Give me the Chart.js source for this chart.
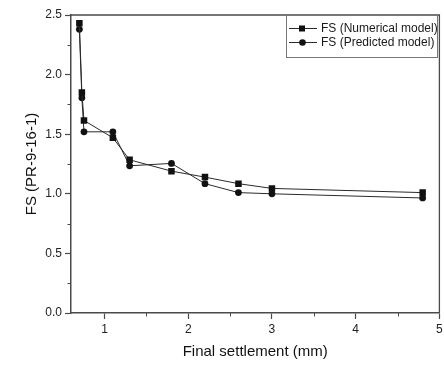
<!DOCTYPE html>
<html>
<head>
<meta charset="utf-8">
<script src="https://cdn.jsdelivr.net/npm/chart.js@4"></script>
<style>
html,body{margin:0;padding:0;background:#fff;}
#wrap{width:444px;height:365px;position:relative;}
</style>
</head>
<body>
<div id="wrap"><canvas id="c" width="444" height="365"></canvas></div>
<script>
const settlement = [0.70, 0.73, 0.755, 1.10, 1.30, 1.80, 2.20, 2.60, 3.00, 4.80];
const fsNumerical = [2.43, 1.85, 1.615, 1.47, 1.285, 1.19, 1.14, 1.085, 1.045, 1.01];
const fsPredicted = [2.38, 1.805, 1.52, 1.52, 1.235, 1.255, 1.085, 1.01, 1.00, 0.965];
const seriesNames = ['FS (Numerical model)', 'FS (Predicted model)'];
const xMajorTicks = [1, 2, 3, 4, 5];
const xMinorTicks = [1.5, 2.5, 3.5, 4.5];
const yMajorTicks = [0, 0.5, 1.0, 1.5, 2.0, 2.5];
const yMinorTicks = [0.25, 0.75, 1.25, 1.75, 2.25];
const xTitle = 'Final settlement (mm)';
const yTitle = 'FS (PR-9-16-1)';

const AXIS = '#4a4a4a';
const LINE = '#2a2a2a';
const FONT = "'Liberation Sans', Arial, sans-serif";

const toPts = (xs, ys) => xs.map((x, i) => ({x: x, y: ys[i]}));

const boxPlugin = {
  id: 'boxAndMinor',
  afterDraw(chart) {
    const ctx = chart.ctx;
    const a = chart.chartArea;
    const xs = chart.scales.x, ys = chart.scales.y;
    ctx.save();
    ctx.strokeStyle = AXIS;
    ctx.lineWidth = 1.3;
    ctx.beginPath();
    ctx.moveTo(a.left, a.top); ctx.lineTo(a.right, a.top); ctx.lineTo(a.right, a.bottom);
    ctx.stroke();
    ctx.lineWidth = 1;
    ctx.beginPath();
    xMinorTicks.forEach(v => {
      const px = Math.round(xs.getPixelForValue(v)) + 0.5;
      ctx.moveTo(px, a.bottom); ctx.lineTo(px, a.bottom + 3.5);
    });
    yMinorTicks.forEach(v => {
      const py = Math.round(ys.getPixelForValue(v)) + 0.5;
      ctx.moveTo(a.left, py); ctx.lineTo(a.left - 3.5, py);
    });
    ctx.stroke();

    // legend
    const lx = 286, ly = 15, lw = 151, lh = 42;
    ctx.strokeStyle = '#777';
    ctx.lineWidth = 1;
    ctx.strokeRect(lx + 0.5, ly + 0.5, lw, lh);
    ctx.font = '12px ' + FONT;
    ctx.textBaseline = 'middle';
    ctx.fillStyle = '#1a1a1a';
    chart.data.datasets.forEach((ds, i) => {
      const cy = 28.5 + i * 14;
      ctx.strokeStyle = LINE;
      ctx.lineWidth = 1;
      ctx.beginPath();
      ctx.moveTo(289, cy); ctx.lineTo(317, cy);
      ctx.stroke();
      ctx.fillStyle = '#111';
      if (ds.pointStyle === 'rect') {
        ctx.fillRect(302 - 3, cy - 3, 6, 6);
      } else {
        ctx.beginPath(); ctx.arc(302.5, cy, 3.3, 0, Math.PI * 2); ctx.fill();
      }
      ctx.fillStyle = '#1a1a1a';
      ctx.fillText(ds.label, 321, cy + 0.5);
    });
    ctx.restore();
  }
};

new Chart(document.getElementById('c'), {
  type: 'scatter',
  data: {
    datasets: [
      {
        label: seriesNames[0],
        data: toPts(settlement, fsNumerical),
        showLine: true,
        borderColor: LINE,
        borderWidth: 1,
        backgroundColor: '#111',
        pointStyle: 'rect',
        pointRadius: 4.6,
        pointBorderWidth: 0,
        tension: 0
      },
      {
        label: seriesNames[1],
        data: toPts(settlement, fsPredicted),
        showLine: true,
        borderColor: LINE,
        borderWidth: 1,
        backgroundColor: '#111',
        pointStyle: 'circle',
        pointRadius: 3.4,
        pointBorderWidth: 0,
        tension: 0
      }
    ]
  },
  plugins: [boxPlugin],
  options: {
    responsive: false,
    animation: false,
    devicePixelRatio: 1,
    layout: {padding: {top: 15, right: 3, left: 0, bottom: 0}},
    plugins: {legend: {display: false}, tooltip: {enabled: false}},
    scales: {
      x: {
        type: 'linear',
        min: 0.6,
        max: 5,
        afterBuildTicks(s) { s.ticks = xMajorTicks.map(v => ({value: v})); },
        afterFit(s) { s.height = 52; s.paddingLeft = 0; s.paddingRight = 0; },
        border: {display: true, color: AXIS, width: 1.5},
        grid: {display: true, drawOnChartArea: false, drawTicks: true, tickLength: 6, tickColor: AXIS, tickWidth: 1.2},
        ticks: {color: '#222', font: {family: FONT, size: 12}, padding: 3, maxRotation: 0, callback: v => String(v)},
        title: {display: true, text: xTitle, color: '#111', font: {family: FONT, size: 15}, padding: {top: 0, bottom: 4}}
      },
      y: {
        type: 'linear',
        min: 0,
        max: 2.5,
        afterBuildTicks(s) { s.ticks = yMajorTicks.map(v => ({value: v})); },
        afterFit(s) { s.width = 71; s.paddingTop = 0; s.paddingBottom = 0; },
        border: {display: true, color: AXIS, width: 1.5},
        grid: {display: true, drawOnChartArea: false, drawTicks: true, tickLength: 6, tickColor: AXIS, tickWidth: 1.2},
        ticks: {color: '#222', font: {family: FONT, size: 12}, padding: 3, callback: v => v.toFixed(1)},
        title: {display: true, text: yTitle, color: '#111', font: {family: FONT, size: 15}, padding: {top: 23, bottom: 0}}
      }
    }
  }
});
</script>
</body>
</html>
